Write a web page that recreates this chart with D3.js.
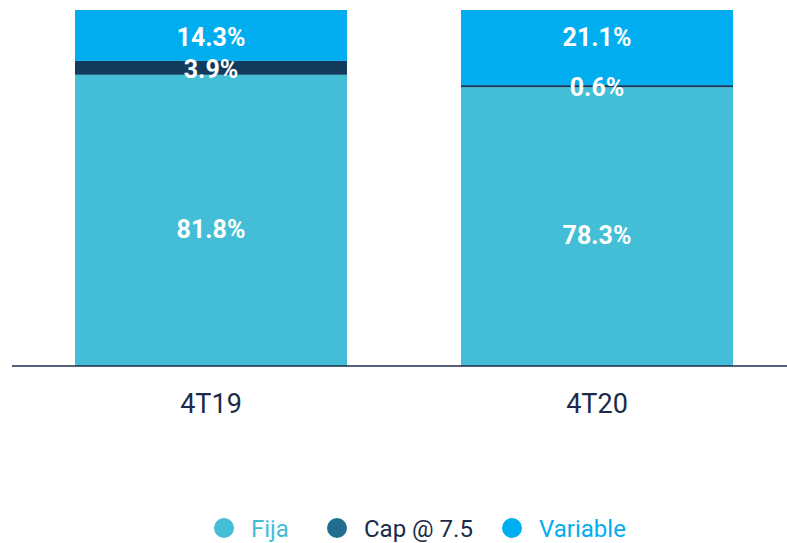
<!DOCTYPE html>
<html><head><meta charset="utf-8">
<script src="https://cdn.jsdelivr.net/npm/d3@7"></script>
<style>body{margin:0;background:#fff}svg{display:block}</style>
</head><body>
<svg id="c" width="787" height="543"></svg>
<script>
const categories = ["4T19", "4T20"];
const seriesNames = ["Fija", "Cap @ 7.5", "Variable"];
const fija = [81.8, 78.3];
const cap = [3.9, 0.6];
const variable = [14.3, 21.1];
const colors = ["#43BED6", "#123C5D", "#00AEEF"];
const legendColors = ["#43BED6", "#226E90", "#00AEEF"];
const legendText = ["#43BED6", "#1A2B4A", "#00AEEF"];

const svg = d3.select("#c");
const font = "Roboto, 'DejaVu Sans', sans-serif";
const data = categories.map((c, i) => ({cat: c, "Fija": fija[i], "Cap @ 7.5": cap[i], "Variable": variable[i]}));
const stack = d3.stack().keys(seriesNames)(data);

const x = d3.scaleBand().domain(categories).range([75, 733]).paddingInner(0.2953).paddingOuter(0);
const y = d3.scaleLinear().domain([0, 100]).range([366, 10]);

const g = svg.append("g");
stack.forEach((s, si) => {
  g.selectAll(null).data(s).enter().append("rect")
    .attr("x", d => x(d.data.cat))
    .attr("width", x.bandwidth())
    .attr("y", d => y(d[1]))
    .attr("height", d => y(d[0]) - y(d[1]))
    .attr("fill", colors[si]);
});
const labelY = (d, si) => si === 2 ? y(d[1]) + 27 : si === 1 ? (y(d[0]) + y(d[1])) / 2 + 1 : (y(d[0]) + y(d[1])) / 2 + 9;
stack.forEach((s, si) => {
  g.selectAll(null).data(s).enter().append("text")
    .attr("x", d => x(d.data.cat) + x.bandwidth() / 2)
    .attr("y", d => labelY(d, si))
    .attr("dy", "0.35em")
    .attr("text-anchor", "middle")
    .attr("fill", "#fff")
    .attr("font-family", font)
    .attr("font-weight", "bold")
    .attr("font-size", 25)
    .text(d => (d[1] - d[0]).toFixed(1) + "%");
});

// axis
const axis = d3.axisBottom(x).tickSize(0).tickPadding(0);
const ax = svg.append("g").attr("transform", "translate(0,366)").call(axis);
ax.select(".domain").remove();
svg.append("line").attr("x1", 12).attr("x2", 787).attr("y1", 366).attr("y2", 366)
  .attr("stroke", "#1A2B4A").attr("stroke-width", 1.5);
ax.selectAll(".tick text")
  .attr("y", 47)
  .attr("dy", 0)
  .attr("font-family", font)
  .attr("font-size", 27)
  .attr("fill", "#1A2B4A");

// legend
const legX = [224, 337, 512];
const leg = svg.append("g");
seriesNames.forEach((n, i) => {
  leg.append("circle").attr("cx", legX[i]).attr("cy", 528).attr("r", 10).attr("fill", legendColors[i]);
  leg.append("text").attr("x", legX[i] + 27).attr("y", 537)
    .attr("font-family", font).attr("font-size", 24).attr("fill", legendText[i]).text(n);
});
</script>
</body></html>
